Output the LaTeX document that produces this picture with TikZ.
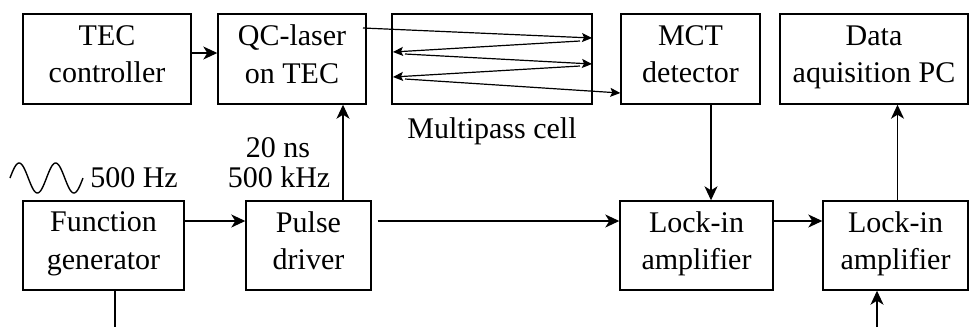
\documentclass[tikz,border=0pt]{standalone}
\usepackage{fontspec}
\setmainfont{Liberation Serif}
\usetikzlibrary{arrows.meta,calc}
\newcommand{\topstrut}{\rule{0pt}{27.75bp}}
\newcommand{\botstrut}{\rule[-9.75bp]{0pt}{9.75bp}}
\begin{document}
\begin{tikzpicture}[x=1bp,y=-1bp,
  box/.style={draw,line width=1.4bp,align=center,inner sep=0pt,
    font=\fontsize{30bp}{37.5bp}\selectfont,
    execute at begin node=\topstrut,execute at end node=\botstrut},
  lbl/.style={font=\fontsize{30bp}{37.5bp}\selectfont,inner sep=0pt,anchor=base},
  arr/.style={line width=1.4bp,-{Stealth[length=14bp,width=13bp,inset=4bp]}},
  beam/.style={line width=1.2bp,-{Stealth[length=10bp,width=9bp,inset=2bp]}},
  wire/.style={line width=1.4bp}]
\useasboundingbox (0,0) rectangle (970,327);
% top row
\node[box,minimum width=168bp,minimum height=90bp] (tec) at (107,59) {TEC\\controller};
\node[box,minimum width=148bp,minimum height=90bp] (qc) at (292,59) {QC-laser\\on TEC};
\node[box,minimum width=200bp,minimum height=90bp] (mp) at (492,59) {};
\node[box,minimum width=139bp,minimum height=90bp] (mct) at (690.5,59) {MCT\\detector};
\node[box,minimum width=188bp,minimum height=90bp] (pc) at (874,59) {Data\\aquisition PC};
% bottom row
\node[box,minimum width=161bp,minimum height=89bp] (fg) at (103.5,245.5) {Function\\generator};
\node[box,minimum width=125bp,minimum height=89bp] (pd) at (308.5,245.5) {Pulse\\driver};
\node[box,minimum width=153bp,minimum height=89bp] (li1) at (696.5,245.5) {Lock-in\\amplifier};
\node[box,minimum width=145bp,minimum height=89bp] (li2) at (895.5,245.5) {Lock-in\\amplifier};
% labels
\node[lbl] (hz) at (134,187) {500 Hz};
\node[lbl] (ns) at (278,157) {20 ns};
\node[lbl] (khz) at (279,187) {500 kHz};
\node[lbl] (mpl) at (492,138) {Multipass cell};
% sine
\draw[wire] plot[domain=0:2,samples=120,smooth] ({10+\x*36.5},{178-15*sin(\x*360)});
% connectors
\draw[arr] ([yshift=6bp]tec.east) -- ([yshift=6bp]qc.west);
\draw[arr] ([xshift=34.5bp]pd.north) coordinate (p1) -- (p1 |- qc.south);
\draw[arr] ([yshift=24.5bp]fg.east) -- ([yshift=24.5bp]pd.west);
\draw[arr,shorten <=6bp] ([yshift=24.5bp]pd.east) -- ([yshift=24.5bp]li1.west);
\draw[arr] ([yshift=24.5bp]li1.east) -- ([yshift=24.5bp]li2.west);
\draw[arr] ([xshift=20.5bp]mct.south) coordinate (m1) -- (m1 |- li1.north);
\draw[arr] ([xshift=2bp]li2.north) coordinate (l2) -- (l2 |- pc.south);
\coordinate (fgend) at (115,327);
\draw[wire] (fgend |- fg.south) -- (fgend);
\coordinate (li2in) at (877,327);
\draw[arr] (li2in) -- (li2in |- li2.south);
% multipass beams
\coordinate (b0) at (363,28);
\coordinate (r1) at (592,38);
\coordinate (r1o) at (580,41);
\coordinate (l1) at (393,52);
\coordinate (l1o) at (405,54);
\coordinate (r2) at (592,64);
\coordinate (r2o) at (580,66);
\coordinate (l2b) at (393,77);
\coordinate (l2o) at (405,79);
\draw[beam] (b0) -- (r1);
\draw[beam] (r1o) -- (l1);
\draw[beam] (l1o) -- (r2);
\draw[beam] (r2o) -- (l2b);
\draw[beam] (l2o) -- (mct.west |- 0,93);
\end{tikzpicture}
\end{document}
